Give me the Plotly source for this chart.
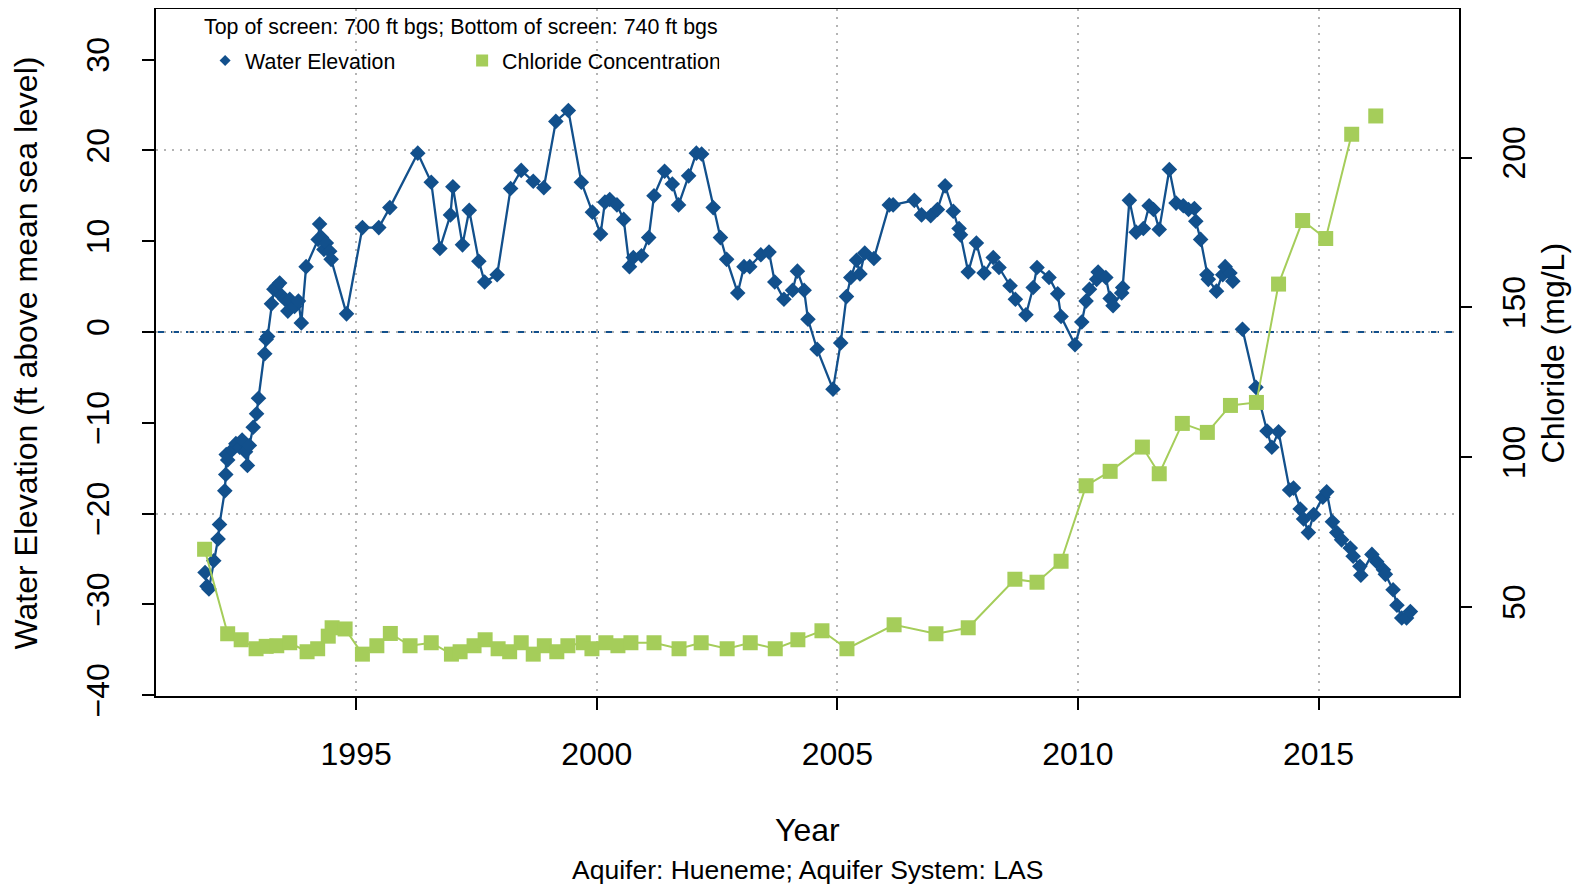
import plotly.graph_objects as go

# water elevation (ft above mean sea level), decimal years
elev_year = [
    1991.86, 1991.90, 1991.94, 1992.04, 1992.13, 1992.16, 1992.27, 1992.29, 1992.30, 1992.33,
    1992.42, 1992.50, 1992.58, 1992.63, 1992.70, 1992.74, 1992.78, 1992.86, 1992.93, 1992.97,
    1993.10, 1993.13, 1993.16, 1993.24, 1993.29, 1993.34, 1993.41, 1993.45, 1993.52, 1993.58,
    1993.62, 1993.72, 1993.80, 1993.86, 1993.96, 1994.21, 1994.24, 1994.28, 1994.33, 1994.38,
    1994.45, 1994.48, 1994.80, 1995.13, 1995.47, 1995.70, 1996.28, 1996.56, 1996.74, 1996.96,
    1997.01, 1997.21, 1997.35, 1997.55, 1997.67, 1997.93, 1998.21, 1998.43, 1998.68, 1998.90,
    1999.15, 1999.41, 1999.68, 1999.91, 2000.08, 2000.17, 2000.27, 2000.42, 2000.56, 2000.68,
    2000.76, 2000.93, 2001.08, 2001.19, 2001.41, 2001.57, 2001.70, 2001.91, 2002.07, 2002.18,
    2002.42, 2002.57, 2002.70, 2002.93, 2003.06, 2003.18, 2003.41, 2003.58, 2003.70, 2003.89,
    2004.07, 2004.17, 2004.31, 2004.39, 2004.58, 2004.91, 2005.07, 2005.19, 2005.28, 2005.40,
    2005.47, 2005.57, 2005.76, 2006.08, 2006.16, 2006.60, 2006.75, 2006.94, 2007.08, 2007.24,
    2007.41, 2007.53, 2007.56, 2007.72, 2007.89, 2008.05, 2008.24, 2008.36, 2008.59, 2008.70,
    2008.92, 2009.07, 2009.15, 2009.40, 2009.58, 2009.65, 2009.94, 2010.08, 2010.17, 2010.24,
    2010.39, 2010.42, 2010.58, 2010.67, 2010.73, 2010.91, 2010.93, 2011.07, 2011.21, 2011.36,
    2011.48, 2011.57, 2011.69, 2011.90, 2012.04, 2012.19, 2012.30, 2012.42, 2012.45, 2012.55,
    2012.68, 2012.71, 2012.88, 2013.01, 2013.06, 2013.16, 2013.22, 2013.32, 2013.42, 2013.70,
    2013.93, 2014.03, 2014.17, 2014.40, 2014.48, 2014.62, 2014.69, 2014.79, 2014.90, 2015.09,
    2015.17, 2015.29, 2015.38, 2015.48, 2015.66, 2015.72, 2015.86, 2015.88, 2016.11, 2016.21,
    2016.35, 2016.39, 2016.55, 2016.63, 2016.73, 2016.83, 2016.91,
]
elev_ft = [
    -26.5, -28.0, -28.3, -25.2, -22.8, -21.2, -17.5, -15.7, -13.5, -14.1,
    -13.0, -12.3, -12.7, -11.9, -13.2, -14.7, -12.5, -10.5, -9.0, -7.3,
    -2.4, -0.8, -0.5, 3.1, 4.7, 5.0, 5.4, 4.0, 3.6, 2.3,
    3.6, 2.8, 3.4, 1.0, 7.2, 10.2, 11.9, 10.4, 9.1, 9.8,
    8.9, 8.0, 2.0, 11.5, 11.5, 13.7, 19.7, 16.5, 9.2, 12.9,
    16.0, 9.6, 13.4, 7.8, 5.5, 6.3, 15.8, 17.8, 16.6, 15.9,
    23.2, 24.4, 16.5, 13.2, 10.8, 14.3, 14.6, 14.0, 12.4, 7.2,
    8.2, 8.4, 10.4, 15.0, 17.7, 16.3, 14.0, 17.2, 19.7, 19.6,
    13.7, 10.4, 8.0, 4.3, 7.2, 7.2, 8.5, 8.8, 5.5, 3.6,
    4.6, 6.7, 4.6, 1.4, -1.9, -6.3, -1.2, 3.9, 6.0, 7.9,
    6.4, 8.7, 8.1, 14.0, 14.0, 14.5, 12.9, 12.8, 13.5, 16.1,
    13.3, 11.4, 10.7, 6.6, 9.8, 6.5, 8.2, 7.1, 5.1, 3.6,
    1.9, 4.9, 7.1, 6.0, 4.2, 1.7, -1.4, 1.1, 3.4, 4.7,
    5.8, 6.6, 6.0, 3.7, 2.9, 4.3, 4.9, 14.5, 11.0, 11.4,
    13.9, 13.5, 11.3, 17.9, 14.2, 13.9, 13.5, 13.6, 12.2, 10.2,
    6.3, 5.8, 4.5, 6.3, 7.2, 6.5, 5.6, None, 0.3, -6.1,
    -10.9, -12.7, -11.0, -17.4, -17.2, -19.5, -20.6, -22.1, -20.1, -18.2,
    -17.6, -20.9, -22.1, -22.9, -23.8, -24.7, -25.8, -26.8, -24.5, -25.3,
    -26.2, -26.7, -28.4, -30.1, -31.5, -31.5, -30.8,
]

# chloride concentration (mg/L)
chl_year = [
    1991.85, 1992.33, 1992.61, 1992.92, 1993.13, 1993.35, 1993.62, 1993.98, 1994.20, 1994.42,
    1994.50, 1994.77, 1995.13, 1995.43, 1995.71, 1996.12, 1996.56, 1996.98, 1997.16, 1997.45,
    1997.68, 1997.95, 1998.19, 1998.43, 1998.68, 1998.91, 1999.17, 1999.40, 1999.72, 1999.90,
    2000.19, 2000.44, 2000.71, 2001.19, 2001.71, 2002.17, 2002.71, 2003.19, 2003.71, 2004.18,
    2004.68, 2005.20, 2006.18, 2007.05, 2007.72, 2008.69, 2009.15, 2009.65, 2010.17, 2010.67,
    2011.34, 2011.69, 2012.17, 2012.69, 2013.17, 2013.71, 2014.17, 2014.67, 2015.15, 2015.69,
    2015.95, 2016.19,
]
chl_mgl = [
    69.3, 41.1, 39.1, 36.1, 36.9, 37.1, 38.1, 35.1, 36.1, 40.3,
    43.1, 42.7, 34.3, 37.1, 41.2, 37.1, 38.1, 34.3, 35.1, 37.1,
    39.1, 36.1, 35.1, 38.1, 34.3, 37.1, 35.1, 37.1, 38.1, 36.1,
    38.1, 37.1, 38.1, 38.1, 36.1, 38.1, 36.1, 38.1, 36.1, 39.1,
    42.1, 36.1, 44.1, 41.1, 43.1, 59.3, 58.3, 65.3, 90.5, 95.3,
    103.4, 94.5, 111.3, 108.3, 117.3, 118.3, 157.8, 179.0, 173.0, 207.8,
    None, 213.9,
]

x_ticks = [1995, 2000, 2005, 2010, 2015]
elev_ticks = [-40, -30, -20, -10, 0, 10, 20, 30]
chl_ticks = [50, 100, 150, 200]

blue = "#12508C"
green = "#A5CD5A"
grid = "#B4B4B4"
font = "Liberation Sans, Arial, sans-serif"

fig = go.Figure()

# empty trace so the grid-only axis (every 20 ft) gets drawn
fig.add_trace(go.Scatter(x=[None], y=[None], yaxis="y3", showlegend=False,
                         hoverinfo="skip"))

fig.add_trace(go.Scatter(
    x=elev_year, y=elev_ft, mode="lines+markers", connectgaps=False,
    line=dict(color=blue, width=2.3),
    marker=dict(symbol="diamond", size=12, color=blue),
    showlegend=False, hoverinfo="x+y",
))
fig.add_trace(go.Scatter(
    x=chl_year, y=chl_mgl, mode="lines+markers", connectgaps=False, yaxis="y2",
    line=dict(color=green, width=2),
    marker=dict(symbol="square", size=15, color=green),
    showlegend=False, hoverinfo="x+y",
))

# legend entries show only the symbol, like the original
fig.add_trace(go.Scatter(
    x=[None], y=[None], mode="markers", name="Water Elevation",
    marker=dict(symbol="diamond", size=8.5, color=blue),
))
fig.add_trace(go.Scatter(
    x=[None], y=[None], mode="markers", name="Chloride Concentration",
    marker=dict(symbol="square", size=12, color=green),
))

fig.add_shape(type="line", xref="paper", x0=0, x1=1, yref="y", y0=0, y1=0,
              line=dict(color=blue, width=2, dash="8px,7px"), layer="between")

tick_font = dict(family=font, size=32, color="black")
ax_line = dict(showline=True, linecolor="black", linewidth=1.6, mirror=True,
               ticks="outside", ticklen=12, tickwidth=1.5, tickcolor="black",
               zeroline=False, tickfont=tick_font, automargin=False)

title_font = dict(family=font, size=32, color="black")

fig.update_layout(
    width=1575, height=880,
    margin=dict(l=148, r=124, t=1, b=192),
    paper_bgcolor="white", plot_bgcolor="white",
    font=dict(family=font, color="black"),
    xaxis=dict(range=[1990.84, 2017.92], tickvals=x_ticks,
               showgrid=True, gridcolor=grid, griddash="2px,6px", gridwidth=1.5,
               ticklabelstandoff=17, **ax_line),
    yaxis=dict(range=[-40.1, 35.58], tickvals=elev_ticks, tickangle=-90,
               showgrid=False, ticklabelstandoff=20, **ax_line),
    yaxis2=dict(range=[20.33, 249.6], tickvals=chl_ticks, tickangle=-90,
                overlaying="y", side="right", showgrid=False, showline=False,
                ticks="outside", ticklen=12, tickwidth=1.5, tickcolor="black",
                zeroline=False, tickfont=tick_font, ticklabelstandoff=15,
                automargin=False),
    yaxis3=dict(range=[-40.1, 35.58], dtick=20, tick0=0, overlaying="y",
                showgrid=True, gridcolor=grid, griddash="2px,6px", gridwidth=1.5,
                showticklabels=False, ticks="", zeroline=False, showline=False,
                automargin=False),
    legend=dict(
        orientation="h", x=0.0377, y=0.9248, xanchor="left", yanchor="middle",
        bgcolor="rgba(0,0,0,0)", font=dict(family=font, size=21.4, color="black"),
        entrywidth=212, entrywidthmode="pixels", itemclick=False,
    ),
    annotations=[
        dict(text="Top of screen: 700 ft bgs; Bottom of screen: 740 ft bgs",
             xref="paper", yref="paper", x=0.2338, y=0.9733,
             xanchor="center", yanchor="middle", showarrow=False,
             font=dict(family=font, size=21.4, color="black")),
        dict(text="Year", xref="paper", yref="paper", x=0.5, y=-0.1957,
             xanchor="center", yanchor="middle", showarrow=False, font=title_font),
        dict(text="Aquifer: Hueneme; Aquifer System: LAS", xref="paper", yref="paper",
             x=0.5, y=-0.254, xanchor="center", yanchor="middle", showarrow=False,
             font=dict(family=font, size=26.5, color="black")),
        dict(text="Water Elevation (ft above mean sea level)", xref="paper", yref="paper",
             x=-0.0998, y=0.5, textangle=-90, xanchor="center", yanchor="middle",
             showarrow=False, font=title_font),
        dict(text="Chloride (mg/L)", xref="paper", yref="paper",
             x=1.0721, y=0.5, textangle=-90, xanchor="center", yanchor="middle",
             showarrow=False, font=title_font),
    ],
)

fig.write_html("out.html")
